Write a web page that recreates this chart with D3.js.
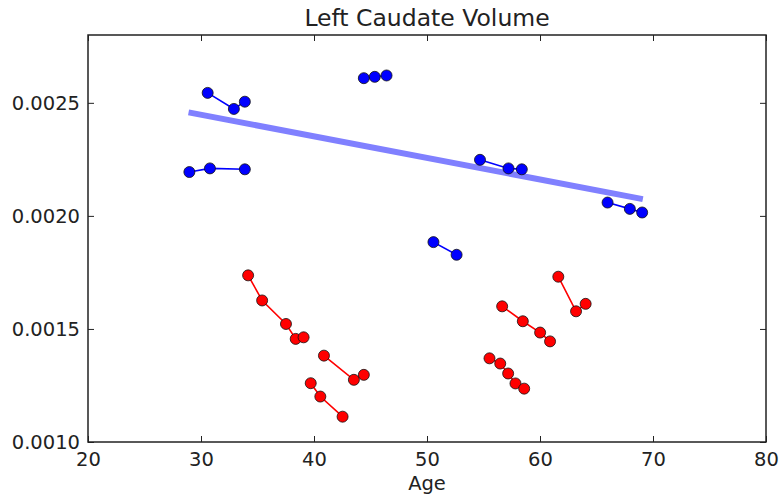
<!DOCTYPE html>
<html>
<head>
<meta charset="utf-8">
<script src="https://cdn.jsdelivr.net/npm/d3@7"></script>
<style>
  body { margin: 0; background: #fff; }
  text { font-family: "DejaVu Sans", sans-serif; fill: #222; }
</style>
</head>
<body>
<div id="chart"></div>
<script>
// Data
const chartTitle = "Left Caudate Volume";
const xLabel = "Age";

// blue subjects (one array per subject)
const blueAges = [
  [28.97, 30.79, 33.88],
  [30.59, 32.91, 33.88],
  [44.41, 45.38, 46.42],
  [54.69, 57.21, 58.39],
  [65.98, 67.95, 69.04],
  [50.57, 52.62]
];
const blueVolumes = [
  [0.002194, 0.002210, 0.002206],
  [0.002544, 0.002473, 0.002505],
  [0.002609, 0.002615, 0.002621],
  [0.002248, 0.002210, 0.002206],
  [0.002059, 0.002031, 0.002015],
  [0.001884, 0.001828]
];

// red subjects
const redAges = [
  [34.17, 35.41, 37.52, 38.38, 39.08],
  [40.88, 43.53, 44.41],
  [39.71, 40.56, 42.53],
  [56.65, 58.48, 60.01, 60.89],
  [61.62, 63.19, 64.04],
  [55.53, 56.48, 57.18, 57.83, 58.60]
];
const redVolumes = [
  [0.001737, 0.001626, 0.001522, 0.001456, 0.001463],
  [0.001382, 0.001275, 0.001297],
  [0.001260, 0.001201, 0.001112],
  [0.001600, 0.001534, 0.001484, 0.001445],
  [0.001731, 0.001578, 0.001611],
  [0.001370, 0.001347, 0.001303, 0.001259, 0.001236]
];

// fitted trend line
const fitAges = [28.9, 69.1];
const fitVolumes = [0.002458, 0.002074];

const xTicks = [20, 30, 40, 50, 60, 70, 80];
const yTicks = [0.0010, 0.0015, 0.0020, 0.0025];

let W = 783, H = 502;
let margin = {top: 35, left: 88, bottom: 60, right: 17};
let width = W - margin.left - margin.right;
let height = H - margin.top - margin.bottom;

let xScale = d3.scaleLinear().domain([20, 80]).range([0, width]);
let yScale = d3.scaleLinear().domain([0.0010, 0.0028]).range([height, 0]);

let svg = d3.select("#chart").append("svg")
    .attr("width", W)
    .attr("height", H)
  .append("g")
    .attr("transform", `translate(${margin.left}, ${margin.top})`);

// turn parallel arrays into point lists
let toPoints = (ages, vols) => ages.map((a, i) => a.map((x, j) => ({x: x, y: vols[i][j]})));
let blueSubjects = toPoints(blueAges, blueVolumes);
let redSubjects = toPoints(redAges, redVolumes);
let fit = fitAges.map((x, i) => ({x: x, y: fitVolumes[i]}));

let line = d3.line()
    .x(d => xScale(d.x))
    .y(d => yScale(d.y));

// trend line
svg.append("path")
    .datum(fit)
    .attr("fill", "none")
    .attr("stroke", "#8080ff")
    .attr("stroke-width", 6)
    .attr("d", line);

function drawGroup(subjects, color) {
  let g = svg.append("g");
  g.selectAll(".subj")
    .data(subjects)
    .enter().append("path")
      .attr("fill", "none")
      .attr("stroke", color)
      .attr("stroke-width", 1.6)
      .attr("d", line);
  g.selectAll(".dot")
    .data(subjects.flat())
    .enter().append("circle")
      .attr("cx", d => xScale(d.x))
      .attr("cy", d => yScale(d.y))
      .attr("r", 5.5)
      .attr("fill", color)
      .attr("stroke", "#111")
      .attr("stroke-width", 0.8);
}
drawGroup(blueSubjects, "#0000ff");
drawGroup(redSubjects, "#ff0000");

// axes, matplotlib-like: ticks inside, mirrored on top/right
let xAxis = d3.axisBottom(xScale).tickValues(xTicks).tickSize(-6).tickPadding(10).tickFormat(d3.format("d"));
let yAxis = d3.axisLeft(yScale).tickValues(yTicks).tickSize(-6).tickPadding(8).tickFormat(d3.format(".4f"));

svg.append("g")
    .attr("class", "x axis")
    .attr("transform", `translate(0, ${height})`)
    .call(xAxis);
svg.append("g")
    .attr("class", "y axis")
    .call(yAxis);
svg.append("g")
    .attr("transform", `translate(0, 0)`)
    .call(d3.axisTop(xScale).tickValues(xTicks).tickSize(-6).tickFormat(""));
svg.append("g")
    .attr("transform", `translate(${width}, 0)`)
    .call(d3.axisRight(yScale).tickValues(yTicks).tickSize(-6).tickFormat(""));

svg.selectAll(".domain").remove();
svg.selectAll(".tick line").attr("stroke", "#222").attr("stroke-width", 1);
svg.selectAll(".tick text").style("font-size", "19.5px").style("font-family", "DejaVu Sans");

svg.append("rect")
    .attr("width", width)
    .attr("height", height)
    .attr("fill", "none")
    .attr("stroke", "#222")
    .attr("stroke-width", 1.5);

svg.append("text")
    .attr("x", width / 2)
    .attr("y", -9)
    .attr("text-anchor", "middle")
    .style("font-size", "23.5px")
    .text(chartTitle);

svg.append("text")
    .attr("x", width / 2)
    .attr("y", height + 48)
    .attr("text-anchor", "middle")
    .style("font-size", "19.5px")
    .text(xLabel);
</script>
</body>
</html>
